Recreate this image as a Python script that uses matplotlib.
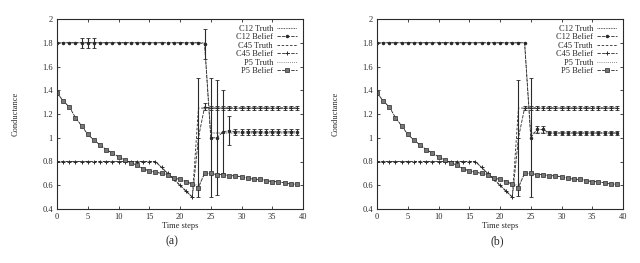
import numpy as np
import matplotlib.pyplot as plt

plt.rcParams['font.family'] = ['Liberation Serif', 'DejaVu Serif']

# Pasos de tiempo
t = np.arange(40)

# Valores verdaderos (iguales en ambos paneles)
c12_truth = [1.8] * 25 + [1.04] * 15
c45_truth = [0.8] * 17 + [0.75, 0.7, 0.65, 0.6, 0.55, 0.5] + [1.25] * 17
p5_truth = [1.38, 1.31, 1.26, 1.17, 1.10, 1.03, 0.98, 0.94, 0.90, 0.87,
            0.84, 0.81, 0.79, 0.77, 0.74, 0.72, 0.71, 0.70, 0.69, 0.66,
            0.65, 0.63, 0.61, 0.60, 0.70, 0.70, 0.69, 0.69, 0.68, 0.68,
            0.67, 0.66, 0.65, 0.65, 0.64, 0.63, 0.63, 0.62, 0.61, 0.61]

# Creencias, panel (a)
c12_bel_a = [1.8] * 24 + [1.79, 1.0, 1.0, 1.05, 1.06] + [1.05] * 11
c12_err_a = ([0] * 4 + [0.04, 0.04, 0.04] + [0] * 17
             + [0.13, 0.5, 0.485, 0.35, 0.12] + [0.025] * 11)
c45_bel_a = [0.8] * 17 + [0.75, 0.7, 0.65, 0.6, 0.55, 0.5] + [1.0, 1.26] + [1.25] * 15
c45_err_a = [0] * 23 + [0.5, 0.03] + [0.02] * 15

# Creencias, panel (b)
c12_bel_b = [1.8] * 25 + [1.0, 1.07, 1.07] + [1.04] * 12
c12_err_b = [0] * 25 + [0.5, 0.03, 0.03] + [0.02] * 12
c45_bel_b = [0.8] * 17 + [0.75, 0.7, 0.65, 0.6, 0.55, 0.5] + [1.0, 1.25] + [1.25] * 15
c45_err_b = [0] * 23 + [0.49, 0.02] + [0.02] * 15

p5_bel = [1.38, 1.31, 1.26, 1.17, 1.10, 1.03, 0.98, 0.94, 0.90, 0.87,
          0.84, 0.81, 0.79, 0.77, 0.74, 0.72, 0.71, 0.70, 0.69, 0.66,
          0.65, 0.63, 0.61, 0.58, 0.70, 0.70, 0.69, 0.69, 0.68, 0.68,
          0.67, 0.66, 0.65, 0.65, 0.64, 0.63, 0.63, 0.62, 0.61, 0.61]
p5_err = [0] * 40

yticks = [0.4, 0.6, 0.8, 1.0, 1.2, 1.4, 1.6, 1.8, 2.0]
ytick_labels = ['0.4', '0.6', '0.8', '1', '1.2', '1.4', '1.6', '1.8', '2']

ink = '#2a2a2a'


def belief(ax, y, err, label, **kw):
    ax.plot(t, y, color=ink, ls=(0, (4, 1.5)), lw=0.6, label=label, **kw)
    y = np.array(y)
    err = np.array(err)
    m = err > 0
    if m.any():
        ax.errorbar(t[m], y[m], yerr=err[m], fmt='none', ecolor=ink,
                    elinewidth=0.8, capsize=1.3, capthick=0.6)


def panel(ax, c12_bel, c12_err, c45_bel, c45_err):
    ax.plot(t, c12_truth, color=ink, ls=(0, (1, 1)), lw=0.6, label='C12 Truth')
    belief(ax, c12_bel, c12_err, 'C12 Belief', marker='.', ms=3)
    ax.plot(t, c45_truth, color=ink, ls=(0, (3, 2)), lw=0.6, label='C45 Truth')
    belief(ax, c45_bel, c45_err, 'C45 Belief', marker='+', ms=3.2, mew=0.7)
    ax.plot(t, p5_truth, color=ink, ls=(0, (1, 2)), lw=0.5, label='P5 Truth')
    belief(ax, p5_bel, p5_err, 'P5 Belief', marker='s', ms=2.7, mfc='#777',
           mec=ink, mew=0.5)

    ax.set_xlim(0, 40)
    ax.set_ylim(0.4, 2.0)
    ax.set_xticks(range(0, 41, 5))
    ax.set_yticks(yticks)
    ax.set_yticklabels(ytick_labels)
    ax.tick_params(direction='in', length=2.5, width=0.6, labelsize=6,
                   top=True, right=True, pad=3, colors=ink)
    for s in ax.spines.values():
        s.set_linewidth(0.8)
        s.set_color(ink)
    ax.set_xlabel('Time steps', fontsize=6, labelpad=0.5, color=ink)
    ax.set_ylabel('Conductance', fontsize=6, color=ink)
    ax.yaxis.set_label_coords(-0.15, 0.5)
    ax.legend(loc='upper right', markerfirst=False, frameon=False, fontsize=6,
              handlelength=2.4, labelspacing=0.05, borderaxespad=0.3,
              handletextpad=0.5, labelcolor=ink)


fig = plt.figure(figsize=(6.4, 2.63), dpi=100)
ax_a = fig.add_axes([57 / 640, 1 - 209 / 263, 246 / 640, 190 / 263])
ax_b = fig.add_axes([377 / 640, 1 - 209 / 263, 246 / 640, 190 / 263])

panel(ax_a, c12_bel_a, c12_err_a, c45_bel_a, c45_err_a)
panel(ax_b, c12_bel_b, c12_err_b, c45_bel_b, c45_err_b)

fig.text(172 / 640, 1 - 241 / 263, '(a)', ha='center', va='center', fontsize=8.5, color=ink)
fig.text(497 / 640, 1 - 241 / 263, '(b)', ha='center', va='center', fontsize=8.5, color=ink)

fig.savefig('out.png', dpi=100)
